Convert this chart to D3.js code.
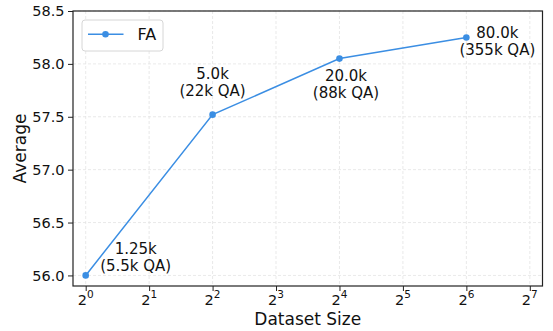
<!DOCTYPE html>
<html>
<head>
<meta charset="utf-8">
<script src="https://cdn.jsdelivr.net/npm/d3@7"></script>
<style>
  body { margin: 0; background: #fff; }
  svg text { font-family: "DejaVu Sans", sans-serif; fill: #111; }
</style>
</head>
<body>
<svg width="553" height="331"></svg>
<script>
// data
var exponents = [0, 2, 4, 6];
var averages = [56.0, 57.52, 58.05, 58.25];
var sizeLabels = ["1.25k", "5.0k", "20.0k", "80.0k"];
var qaLabels = ["(5.5k QA)", "(22k QA)", "(88k QA)", "(355k QA)"];
var xTickExps = [0, 1, 2, 3, 4, 5, 6, 7];
var yTicks = [56.0, 56.5, 57.0, 57.5, 58.0, 58.5];
// label offsets relative to the point (dx, dy of the first baseline)
var labelOffsets = [[50, -21.5], [0, -36], [6.5, 22.5], [31, 0.8]];

var color = "#3b8ee3";
var svg = d3.select("svg");
var pLeft = 73, pRight = 542.5, pTop = 11, pBottom = 286;

var x = d3.scaleLog().base(2).domain([Math.pow(2, -0.2), Math.pow(2, 7.2)]).range([pLeft, pRight]);
var y = d3.scaleLinear().domain([55.9, 58.5]).range([pBottom, pTop]);

// grid
var grid = svg.append("g");
grid.selectAll(".gx").data(xTickExps).enter().append("line")
  .attr("x1", function(d) { return x(Math.pow(2, d)); })
  .attr("x2", function(d) { return x(Math.pow(2, d)); })
  .attr("y1", pTop).attr("y2", pBottom)
  .attr("stroke", "#e3e3e3").attr("stroke-width", 0.8).attr("stroke-dasharray", "3,2");
grid.selectAll(".gy").data(yTicks).enter().append("line")
  .attr("y1", function(d) { return y(d); })
  .attr("y2", function(d) { return y(d); })
  .attr("x1", pLeft).attr("x2", pRight)
  .attr("stroke", "#e3e3e3").attr("stroke-width", 0.8).attr("stroke-dasharray", "3,2");

// axes
var xAxis = svg.append("g")
  .attr("transform", "translate(0," + pBottom + ")")
  .call(d3.axisBottom(x).tickValues(xTickExps.map(function(e) { return Math.pow(2, e); }))
    .tickSize(5).tickFormat(""));
xAxis.select(".domain").remove();
xAxis.selectAll(".tick line").attr("stroke", "#222").attr("stroke-width", 1);

var yAxis = svg.append("g")
  .attr("transform", "translate(" + pLeft + ",0)")
  .call(d3.axisLeft(y).tickValues(yTicks).tickSize(5).tickPadding(3.5).tickFormat(d3.format(".1f")));
yAxis.select(".domain").remove();
yAxis.selectAll(".tick line").attr("stroke", "#222").attr("stroke-width", 1);
yAxis.selectAll(".tick text").attr("font-size", 14.5).attr("fill", "#111")
  .attr("font-family", "DejaVu Sans, sans-serif");

// x tick labels with superscripts
var xl = svg.append("g").selectAll("text").data(xTickExps).enter().append("text")
  .attr("x", function(d) { return x(Math.pow(2, d)); })
  .attr("y", pBottom + 18.5)
  .attr("text-anchor", "middle")
  .attr("font-size", 14.5);
xl.append("tspan").text("2");
xl.append("tspan").attr("dy", -6.5).attr("font-size", 10.5).text(function(d) { return d; });

// frame
svg.append("rect").attr("x", pLeft).attr("y", pTop)
  .attr("width", pRight - pLeft).attr("height", pBottom - pTop)
  .attr("fill", "none").attr("stroke", "#222").attr("stroke-width", 1.2);

// line + points
var pts = exponents.map(function(e, i) { return [Math.pow(2, e), averages[i]]; });
svg.append("path").datum(pts)
  .attr("fill", "none").attr("stroke", color).attr("stroke-width", 1.5)
  .attr("d", d3.line().x(function(d) { return x(d[0]); }).y(function(d) { return y(d[1]); }));
svg.selectAll(".pt").data(pts).enter().append("circle")
  .attr("cx", function(d) { return x(d[0]); })
  .attr("cy", function(d) { return y(d[1]); })
  .attr("r", 3.3).attr("fill", color);

// annotations
var ann = svg.selectAll(".ann").data(pts).enter().append("text")
  .attr("text-anchor", "middle").attr("font-size", 15);
ann.append("tspan")
  .attr("x", function(d, i) { return x(d[0]) + labelOffsets[i][0]; })
  .attr("y", function(d, i) { return y(d[1]) + labelOffsets[i][1]; })
  .text(function(d, i) { return sizeLabels[i]; });
ann.append("tspan")
  .attr("x", function(d, i) { return x(d[0]) + labelOffsets[i][0]; })
  .attr("dy", 17)
  .text(function(d, i) { return qaLabels[i]; });

// axis titles
svg.append("text").attr("x", (pLeft + pRight) / 2).attr("y", 325)
  .attr("text-anchor", "middle").attr("font-size", 17).text("Dataset Size");
svg.append("text").attr("transform", "translate(26," + (pTop + pBottom) / 2 + ") rotate(-90)")
  .attr("text-anchor", "middle").attr("font-size", 17).text("Average");

// legend
var lg = svg.append("g").attr("transform", "translate(82,20)");
lg.append("rect").attr("width", 81).attr("height", 31).attr("rx", 3)
  .attr("fill", "#fff").attr("stroke", "#d6d6d6").attr("stroke-width", 1);
lg.append("line").attr("x1", 6).attr("x2", 41.5).attr("y1", 14.3).attr("y2", 14.3)
  .attr("stroke", color).attr("stroke-width", 1.5);
lg.append("circle").attr("cx", 23.5).attr("cy", 14.3).attr("r", 3.3).attr("fill", color);
lg.append("text").attr("x", 55.5).attr("y", 20).attr("font-size", 16).text("FA");
</script>
</body>
</html>
